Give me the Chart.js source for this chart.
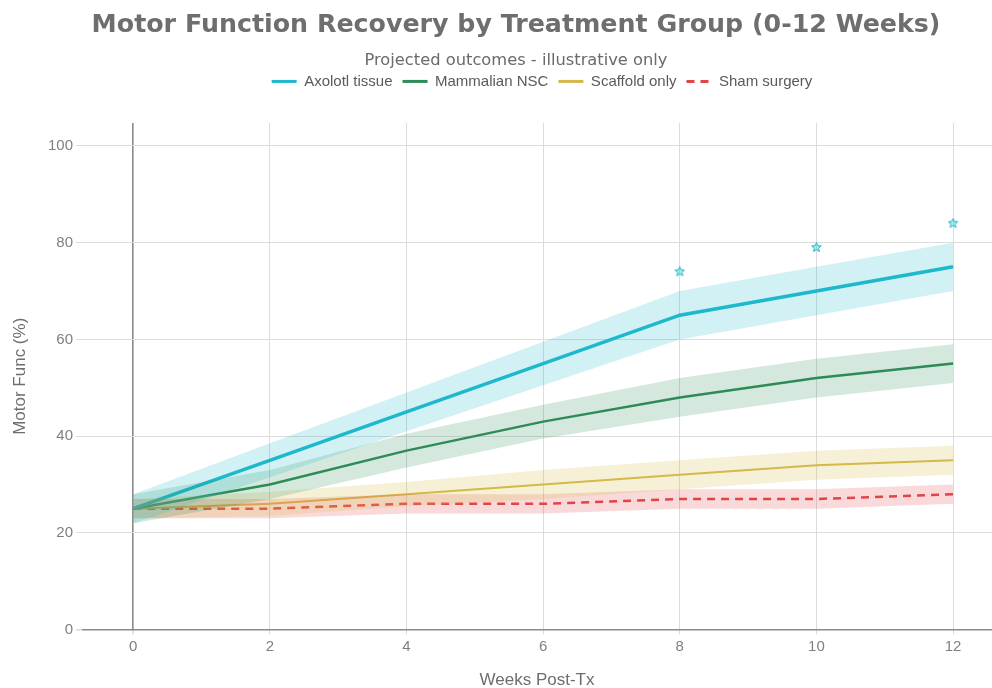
<!DOCTYPE html>
<html>
<head>
<meta charset="utf-8">
<script src="https://cdn.jsdelivr.net/npm/chart.js@4.4.1/dist/chart.umd.min.js"></script>
<style>
  html, body { margin: 0; padding: 0; background: #ffffff; overflow: hidden; }
  canvas { display: block; }
</style>
</head>
<body>
<canvas id="recoveryChart" width="992" height="688"></canvas>
<script>
// ---- data ----
const weeks = [0, 2, 4, 6, 8, 10, 12];

const axolotl    = [25, 35, 45, 55, 65, 70, 75];
const axolotlErr = [3, 3.5, 4, 4.5, 5, 5, 5];

const mammalian    = [25, 30, 37, 43, 48, 52, 55];
const mammalianErr = [3, 3, 3.5, 3.5, 4, 4, 4];

const scaffold    = [25, 26, 28, 30, 32, 34, 35];
const scaffoldErr = [2, 2.5, 2.5, 3, 3, 3, 3];

const sham    = [25, 25, 26, 26, 27, 27, 28];
const shamErr = [2, 2, 2, 2, 2, 2, 2];

// significance markers above axolotl curve
const starWeeks  = [8, 10, 12];
const starValues = [74, 79, 84];

const xTicks = [0, 2, 4, 6, 8, 10, 12];
const yTicks = [0, 20, 40, 60, 80, 100];

// ---- helpers ----
function pts(xs, ys) {
  return xs.map((x, i) => ({ x: x, y: ys[i] }));
}
function band(vals, errs, sign) {
  return weeks.map((w, i) => ({ x: w, y: vals[i] + sign * errs[i] }));
}

// small 5-point star used as point style
function makeStar(size, color) {
  const c = document.createElement('canvas');
  c.width = size; c.height = size;
  const g = c.getContext('2d');
  const cx = size / 2, cy = size / 2, ro = size / 2 - 0.5, ri = ro * 0.45;
  g.beginPath();
  for (let i = 0; i < 10; i++) {
    const r = i % 2 === 0 ? ro : ri;
    const a = -Math.PI / 2 + i * Math.PI / 5;
    g.lineTo(cx + r * Math.cos(a), cy + r * Math.sin(a));
  }
  g.closePath();
  g.fillStyle = 'rgba(23,190,207,0.35)';
  g.fill();
  g.strokeStyle = color;
  g.lineWidth = 1;
  g.stroke();
  return c;
}

const BAND = 'band';

function bandSets(vals, errs, fillColor) {
  return [
    {
      label: BAND,
      data: band(vals, errs, 1),
      borderWidth: 0,
      pointRadius: 0,
      backgroundColor: fillColor,
      fill: '+1'
    },
    {
      label: BAND,
      data: band(vals, errs, -1),
      borderWidth: 0,
      pointRadius: 0,
      backgroundColor: fillColor,
      fill: false
    }
  ];
}

const datasets = [
  ...bandSets(axolotl, axolotlErr, 'rgba(23,184,204,0.20)'),
  ...bandSets(mammalian, mammalianErr, 'rgba(46,139,87,0.20)'),
  ...bandSets(scaffold, scaffoldErr, 'rgba(212,185,74,0.22)'),
  ...bandSets(sham, shamErr, 'rgba(224,64,64,0.20)'),
  {
    label: 'Axolotl tissue',
    data: pts(weeks, axolotl),
    borderColor: '#1fb8cc',
    backgroundColor: '#1fb8cc',
    borderWidth: 3.5,
    pointRadius: 0,
    fill: false
  },
  {
    label: 'Mammalian NSC',
    data: pts(weeks, mammalian),
    borderColor: '#2e8b57',
    backgroundColor: '#2e8b57',
    borderWidth: 2.5,
    pointRadius: 0,
    fill: false
  },
  {
    label: 'Scaffold only',
    data: pts(weeks, scaffold),
    borderColor: '#d4b84a',
    backgroundColor: '#d4b84a',
    borderWidth: 2,
    pointRadius: 0,
    fill: false
  },
  {
    label: 'Sham surgery',
    data: pts(weeks, sham),
    borderColor: '#e04545',
    backgroundColor: '#e04545',
    borderWidth: 2.5,
    borderDash: [8, 6],
    pointRadius: 0,
    fill: false
  },
  {
    label: BAND,
    data: pts(starWeeks, starValues),
    showLine: false,
    pointStyle: makeStar(11, '#1fb8cc'),
    pointRadius: 5,
    borderColor: '#1fb8cc',
    backgroundColor: '#1fb8cc'
  }
];

// extra gap between legend and plot
const legendGap = {
  id: 'legendGap',
  beforeInit(chart) {
    const origFit = chart.legend.fit;
    chart.legend.fit = function () {
      origFit.bind(chart.legend)();
      this.height += 24;
    };
  },
  // headings in the reference sit right of the canvas centre
  afterLayout(chart) {
    chart.boxes.forEach(box => {
      let shift = 0;
      if (box === chart.legend) shift = 46;
      else if (box.axis === undefined && box.options && box.options.text !== undefined) shift = 20;
      box.left += shift;
      box.right += shift;
    });
  }
};

const tickColor = '#808080';
const gridColor = '#dcdcdc';
const zeroColor = '#8a8a8a';

new Chart(document.getElementById('recoveryChart').getContext('2d'), {
  type: 'line',
  data: { datasets: datasets },
  plugins: [legendGap],
  options: {
    responsive: false,
    animation: false,
    devicePixelRatio: 1,
    layout: { autoPadding: false, padding: { left: 0, right: 0, top: 0, bottom: 0 } },
    plugins: {
      title: {
        display: true,
        text: 'Motor Function Recovery by Treatment Group (0-12 Weeks)',
        color: '#6e6e6e',
        font: { family: 'DejaVu Sans', size: 25.3, weight: 'bold' },
        padding: { top: 10, bottom: 11 }
      },
      subtitle: {
        display: true,
        text: 'Projected outcomes - illustrative only',
        color: '#6a6a6a',
        font: { family: 'DejaVu Sans', size: 16.3 },
        padding: { top: 0, bottom: -7 }
      },
      legend: {
        display: true,
        labels: {
          color: '#5a5a5a',
          font: { family: 'Liberation Sans', size: 15 },
          usePointStyle: true,
          pointStyle: 'line',
          pointStyleWidth: 25,
          padding: 10,
          filter: (item) => item.text !== BAND,
          generateLabels: (chart) => {
            const items = Chart.defaults.plugins.legend.labels.generateLabels(chart);
            items.forEach(it => {
              const ds = chart.data.datasets[it.datasetIndex];
              it.lineDash = ds.borderDash || [];
              it.lineWidth = 3;
              it.strokeStyle = ds.borderColor;
            });
            return items;
          }
        }
      },
      tooltip: { enabled: false }
    },
    scales: {
      x: {
        type: 'linear',
        min: -0.75,
        max: 12.57,
        afterBuildTicks: (scale) => { scale.ticks = xTicks.map(v => ({ value: v })); },
        afterFit: (scale) => { scale.paddingLeft = 0; scale.paddingRight = 0; },
        border: { display: false },
        grid: {
          color: (ctx) => (ctx.tick && ctx.tick.value === 0 ? zeroColor : gridColor),
          lineWidth: (ctx) => (ctx.tick && ctx.tick.value === 0 ? 1.6 : 1),
          tickLength: 5,
          tickColor: gridColor
        },
        ticks: {
          color: tickColor,
          padding: 3,
          font: { family: 'Liberation Sans', size: 15 }
        },
        title: {
          display: true,
          text: 'Weeks Post-Tx',
          color: '#6e6e6e',
          font: { family: 'Liberation Sans', size: 17 },
          padding: { top: 12, bottom: -3 }
        }
      },
      y: {
        type: 'linear',
        min: 0,
        max: 104.75,
        afterBuildTicks: (scale) => { scale.ticks = yTicks.map(v => ({ value: v })); },
        afterFit: (scale) => { scale.width = 82; },
        border: { display: false },
        grid: {
          color: (ctx) => (ctx.tick && ctx.tick.value === 0 ? zeroColor : gridColor),
          lineWidth: (ctx) => (ctx.tick && ctx.tick.value === 0 ? 1.6 : 1),
          tickLength: 6,
          tickColor: gridColor
        },
        ticks: {
          color: tickColor,
          padding: 3,
          font: { family: 'Liberation Sans', size: 15 }
        },
        title: {
          display: true,
          text: 'Motor Func (%)',
          color: '#6e6e6e',
          font: { family: 'Liberation Sans', size: 17 },
          padding: { top: 10, bottom: 0 }
        }
      }
    }
  }
});
</script>
</body>
</html>
